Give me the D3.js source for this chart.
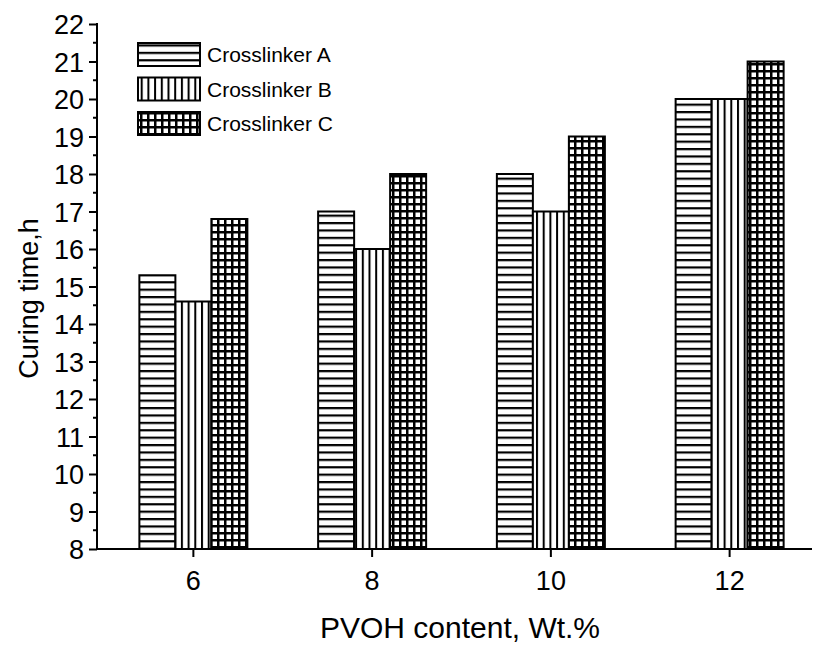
<!DOCTYPE html>
<html lang="en">
<head>
<meta charset="utf-8">
<script src="https://d3js.org/d3.v7.min.js"></script>
<style>
  body { margin: 0; background: #fff; }
  text { font-family: "Liberation Sans", Arial, sans-serif; fill: #000; }
</style>
</head>
<body>
<div id="chart"></div>
<script>
// data
var categories = ["6", "8", "10", "12"];
var seriesNames = ["Crosslinker A", "Crosslinker B", "Crosslinker C"];
var crossA = [15.3, 17, 18, 20];
var crossB = [14.6, 16, 17, 20];
var crossC = [16.8, 18, 19, 21];
var yTicks = d3.range(8, 23, 1);

var W = 815, H = 645;
var mLeft = 97, mRight = 812, mTop = 24, mBottom = 549;

var svg = d3.select("#chart").append("svg")
    .attr("width", W).attr("height", H);

var defs = svg.append("defs");

// horizontal lines
var pA = defs.append("pattern").attr("id", "patA")
    .attr("patternUnits", "userSpaceOnUse").attr("width", 10).attr("height", 7.4);
pA.append("rect").attr("width", 10).attr("height", 7.4).attr("fill", "#fff");
pA.append("rect").attr("y", 0).attr("width", 10).attr("height", 2.2).attr("fill", "#000");

// vertical lines
var pB = defs.append("pattern").attr("id", "patB")
    .attr("patternUnits", "userSpaceOnUse").attr("width", 6.7).attr("height", 10);
pB.append("rect").attr("width", 6.7).attr("height", 10).attr("fill", "#fff");
pB.append("rect").attr("x", 0).attr("width", 2).attr("height", 10).attr("fill", "#000");

// grid
var pC = defs.append("pattern").attr("id", "patC")
    .attr("patternUnits", "userSpaceOnUse").attr("width", 7).attr("height", 7);
pC.append("rect").attr("width", 7).attr("height", 7).attr("fill", "#000");
pC.append("rect").attr("x", 2.5).attr("y", 2.5).attr("width", 4.5).attr("height", 4.5).attr("fill", "#fff");

var fills = ["url(#patA)", "url(#patB)", "url(#patC)"];

var x = d3.scaleBand().domain(categories).range([104, 819]).padding(0);
var y = d3.scaleLinear().domain([8, 22]).range([mBottom, mTop]);

var barW = 36;
var series = [crossA, crossB, crossC];

series.forEach(function(vals, s) {
    svg.append("g").selectAll("rect")
        .data(vals)
        .enter().append("rect")
        .attr("x", function(d, i) { return x(categories[i]) + x.bandwidth() / 2 - 1.5 * barW + s * barW; })
        .attr("y", function(d) { return y(d); })
        .attr("width", barW)
        .attr("height", function(d) { return y(8) - y(d); })
        .attr("fill", fills[s])
        .attr("stroke", "#000")
        .attr("stroke-width", 2);
});

// y axis
var yAxis = d3.axisLeft(y).tickValues(yTicks).tickSize(8).tickPadding(5).tickFormat(d3.format("d"));
var gy = svg.append("g").attr("transform", "translate(" + mLeft + ",0)").call(yAxis);
gy.select(".domain").remove();
gy.append("line").attr("x1", 0).attr("x2", 0).attr("y1", mTop - 1).attr("y2", mBottom + 1)
    .attr("stroke", "#000").attr("stroke-width", 2);
gy.selectAll(".tick line").attr("stroke-width", 2);
gy.selectAll(".tick text").attr("font-size", 27).attr("dy", "0.36em")
    .style("font-family", "'Liberation Sans', Arial, sans-serif").attr("fill", "#000");
gy.selectAll(".minor").data(d3.range(8.5, 22, 1)).enter().append("line")
    .attr("x1", -4).attr("x2", 0)
    .attr("y1", function(d) { return y(d); }).attr("y2", function(d) { return y(d); })
    .attr("stroke", "#000").attr("stroke-width", 2);

// x axis
var xAxis = d3.axisBottom(x).tickSize(8).tickPadding(14);
var gx = svg.append("g").attr("transform", "translate(0," + mBottom + ")").call(xAxis);
gx.select(".domain").remove();
gx.append("line").attr("x1", mLeft - 1).attr("x2", mRight).attr("y1", 0).attr("y2", 0)
    .attr("stroke", "#000").attr("stroke-width", 2);
gx.selectAll(".tick line").attr("stroke-width", 2);
gx.selectAll(".tick text").attr("font-size", 27)
    .style("font-family", "'Liberation Sans', Arial, sans-serif").attr("fill", "#000");

// axis titles
svg.append("text").attr("x", 460).attr("y", 638)
    .attr("text-anchor", "middle").attr("font-size", 30)
    .text("PVOH content, Wt.%");
svg.append("text")
    .attr("transform", "translate(38," + ((mTop + mBottom) / 2 + 12) + ") rotate(-90)")
    .attr("text-anchor", "middle").attr("font-size", 27)
    .text("Curing time,h");

// legend
var legend = svg.append("g");
seriesNames.forEach(function(name, i) {
    var ly = 43 + i * 34.5;
    legend.append("rect").attr("x", 138).attr("y", ly).attr("width", 62).attr("height", 23)
        .attr("fill", fills[i]).attr("stroke", "#000").attr("stroke-width", 2);
    legend.append("text").attr("x", 207).attr("y", ly + 19).attr("font-size", 21).text(name);
});
</script>
</body>
</html>
